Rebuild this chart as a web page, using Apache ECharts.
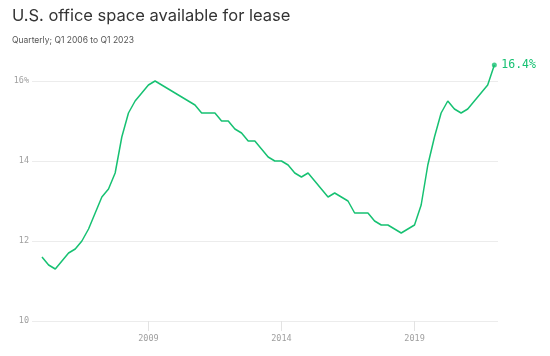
<!DOCTYPE html>
<html>
<head>
<meta charset="utf-8">
<script src="https://cdn.jsdelivr.net/npm/echarts@6/dist/echarts.min.js"></script>
<style>html,body{margin:0;padding:0;background:#fff;}#c{width:550px;height:356px;}</style>
</head>
<body>
<div id="c"></div>
<script>
// Quarterly, Q1 2006 .. Q1 2023 (69 quarters)
const startYear = 2006;
const values = [
  11.6, 11.4, 11.3, 11.5, 11.7, 11.8, 12.0, 12.3, 12.7, 13.1, 13.3, 13.7,
  14.6, 15.2, 15.5, 15.7, 15.9, 16.0, 15.9, 15.8, 15.7, 15.6, 15.5, 15.4,
  15.2, 15.2, 15.2, 15.0, 15.0, 14.8, 14.7, 14.5, 14.5, 14.3, 14.1, 14.0,
  14.0, 13.9, 13.7, 13.6, 13.7, 13.5, 13.3, 13.1, 13.2, 13.1, 13.0, 12.7,
  12.7, 12.7, 12.5, 12.4, 12.4, 12.3, 12.2, 12.3, 12.4, 12.9, 13.9, 14.6,
  15.2, 15.5, 15.3, 15.2, 15.3, 15.5, 15.7, 15.9, 16.4
];
const categories = values.map((_, i) => (startYear + Math.floor(i / 4)) + ' Q' + (i % 4 + 1));
const xTickIndex = [16, 36, 56];
const xTickLabels = ['2009', '2014', '2019'];
const yTicks = [10, 12, 14, 16];

const green = '#16c172';
const mono = '"DejaVu Sans Mono", monospace';
const seriesData = values.map((v, i) => [i, v]);
const last = seriesData[seriesData.length - 1];

const chart = echarts.init(document.getElementById('c'), null, {renderer: 'canvas'});
chart.setOption({
  animation: false,
  backgroundColor: '#fff',
  title: {
    text: 'U.S. office space available for lease',
    subtext: 'Quarterly; Q1 2006 to Q1 2023',
    left: 7, top: 3, itemGap: 11,
    textStyle: {fontFamily: 'Inter, sans-serif', fontSize: 16.5, fontWeight: 'normal', color: '#333'},
    subtextStyle: {fontFamily: 'Inter, sans-serif', fontSize: 8.5, color: '#555'}
  },
  grid: {left: 32, right: 52, top: 81, bottom: 35},
  xAxis: {
    type: 'value', min: -1.5, max: 68.55,
    axisLine: {show: false},
    splitLine: {show: false},
    axisTick: {show: true, customValues: xTickIndex, length: 10, lineStyle: {color: '#e3e3e3'}},
    axisLabel: {
      customValues: xTickIndex, margin: 13,
      fontFamily: mono, fontSize: 8.5, color: '#a0a0a0',
      formatter: v => xTickLabels[xTickIndex.indexOf(Math.round(v))] || ''
    }
  },
  yAxis: {
    type: 'value', min: 10, max: 16, interval: 2,
    axisLine: {show: false}, axisTick: {show: false},
    splitLine: {lineStyle: {color: '#ececec', width: 1}},
    axisLabel: {
      margin: 3, fontFamily: mono, fontSize: 8.5, color: '#a0a0a0',
      formatter: v => (v === yTicks[yTicks.length - 1] ? v + '%' : String(v))
    }
  },
  series: [
    {
      type: 'line', data: seriesData, showSymbol: false, clip: false,
      lineStyle: {color: green, width: 1.5},
      itemStyle: {color: green},
      endLabel: {
        show: true, distance: 7, color: green, fontFamily: mono, fontSize: 11.5,
        formatter: p => p.value[1].toFixed(1) + '%'
      }
    },
    {
      type: 'scatter', data: [last], symbol: 'circle', symbolSize: 5, clip: false,
      itemStyle: {color: green}, silent: true
    }
  ]
});
</script>
</body>
</html>
